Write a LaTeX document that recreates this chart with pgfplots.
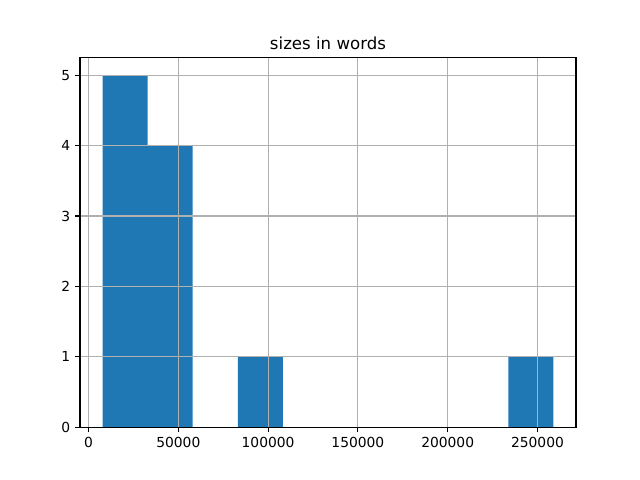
\documentclass[border=0pt]{standalone}
\usepackage{fontspec}
\setmainfont{DejaVu Sans}
\usepackage{pgfplots}
\pgfplotsset{compat=1.18}
\definecolor{tabblue}{HTML}{1F77B4}
\definecolor{gridgray}{HTML}{B0B0B0}
\begin{document}
\begin{tikzpicture}
\begin{axis}[
  scale only axis, width=4.96in, height=3.696in,
  xmin=-4755, xmax=271455, ymin=0, ymax=5.25,
  xtick={0,50000,100000,150000,200000,250000},
  xticklabels={0,50000,100000,150000,200000,250000},
  ytick={0,1,2,3,4,5},
  yticklabels={0,1,2,3,4,5},
  scaled ticks=false,
  ticklabel style={font=\fontsize{10}{12}\selectfont},
  tick align=outside, major tick length=3.5pt,
  tick style={black, line width=0.8pt},
  xtick pos=bottom, ytick pos=left,
  axis line style={line width=0.8pt},
  grid=major, major grid style={gridgray, line width=0.8pt},
  axis on top,
  title={sizes in words},
  title style={font=\fontsize{12}{14}\selectfont, yshift=-3.5pt},
  clip=false,
]
\addplot[ybar interval, fill=tabblue, draw=none] coordinates {
  (7800,5) (32910,4) (58020,0) (83130,1) (108240,0) (133350,0)
  (158460,0) (183570,0) (208680,0) (233790,1) (258900,1)
};
\path[use as bounding box] (rel axis cs:-0.16129,-0.142857) rectangle (rel axis cs:1.129032,1.155844);
\end{axis}
\end{tikzpicture}
\end{document}
